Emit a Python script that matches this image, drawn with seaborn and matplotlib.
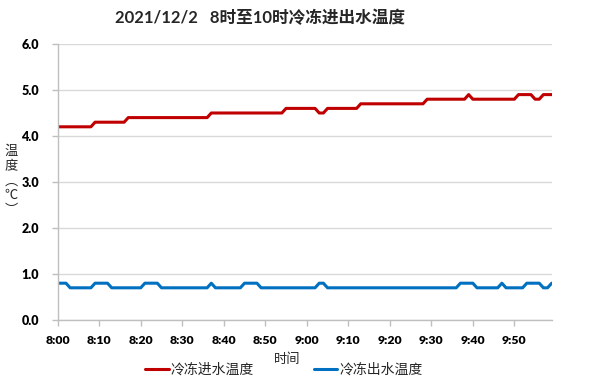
import numpy as np
import pandas as pd
import matplotlib
matplotlib.use("Agg")
import matplotlib.pyplot as plt
import seaborn as sns

# ---- data -------------------------------------------------------------
title = "2021/12/2   8时至10时冷冻进出水温度"
series_names = ["冷冻进水温度", "冷冻出水温度"]
tick_labels = ["8:00", "8:10", "8:20", "8:30", "8:40", "8:50",
               "9:00", "9:10", "9:20", "9:30", "9:40", "9:50"]
tick_minutes = [0, 10, 20, 30, 40, 50, 60, 70, 80, 90, 100, 110]
ylabel_chars = ["温", "度", "︵", "℃", "︶"]
xlabel = "时间"

inlet = [
    4.2, 4.2, 4.2, 4.2, 4.2, 4.2, 4.2, 4.2, 4.2, 4.3,
    4.3, 4.3, 4.3, 4.3, 4.3, 4.3, 4.3, 4.4, 4.4, 4.4,
    4.4, 4.4, 4.4, 4.4, 4.4, 4.4, 4.4, 4.4, 4.4, 4.4,
    4.4, 4.4, 4.4, 4.4, 4.4, 4.4, 4.4, 4.5, 4.5, 4.5,
    4.5, 4.5, 4.5, 4.5, 4.5, 4.5, 4.5, 4.5, 4.5, 4.5,
    4.5, 4.5, 4.5, 4.5, 4.5, 4.6, 4.6, 4.6, 4.6, 4.6,
    4.6, 4.6, 4.6, 4.5, 4.5, 4.6, 4.6, 4.6, 4.6, 4.6,
    4.6, 4.6, 4.6, 4.7, 4.7, 4.7, 4.7, 4.7, 4.7, 4.7,
    4.7, 4.7, 4.7, 4.7, 4.7, 4.7, 4.7, 4.7, 4.7, 4.8,
    4.8, 4.8, 4.8, 4.8, 4.8, 4.8, 4.8, 4.8, 4.8, 4.9,
    4.8, 4.8, 4.8, 4.8, 4.8, 4.8, 4.8, 4.8, 4.8, 4.8,
    4.8, 4.9, 4.9, 4.9, 4.9, 4.8, 4.8, 4.9, 4.9, 4.9,
]
outlet = [
    0.8, 0.8, 0.8, 0.7, 0.7, 0.7, 0.7, 0.7, 0.7, 0.8,
    0.8, 0.8, 0.8, 0.7, 0.7, 0.7, 0.7, 0.7, 0.7, 0.7,
    0.7, 0.8, 0.8, 0.8, 0.8, 0.7, 0.7, 0.7, 0.7, 0.7,
    0.7, 0.7, 0.7, 0.7, 0.7, 0.7, 0.7, 0.8, 0.7, 0.7,
    0.7, 0.7, 0.7, 0.7, 0.7, 0.8, 0.8, 0.8, 0.8, 0.7,
    0.7, 0.7, 0.7, 0.7, 0.7, 0.7, 0.7, 0.7, 0.7, 0.7,
    0.7, 0.7, 0.7, 0.8, 0.8, 0.7, 0.7, 0.7, 0.7, 0.7,
    0.7, 0.7, 0.7, 0.7, 0.7, 0.7, 0.7, 0.7, 0.7, 0.7,
    0.7, 0.7, 0.7, 0.7, 0.7, 0.7, 0.7, 0.7, 0.7, 0.7,
    0.7, 0.7, 0.7, 0.7, 0.7, 0.7, 0.7, 0.8, 0.8, 0.8,
    0.8, 0.7, 0.7, 0.7, 0.7, 0.7, 0.7, 0.8, 0.7, 0.7,
    0.7, 0.7, 0.7, 0.8, 0.8, 0.8, 0.8, 0.7, 0.7, 0.8,
]
minutes = np.arange(len(inlet))

df = pd.DataFrame({
    "minute": np.concatenate([minutes, minutes]),
    "value": inlet + outlet,
    "series": [series_names[0]] * len(inlet) + [series_names[1]] * len(outlet),
})

# ---- style ------------------------------------------------------------
sns.set_theme(style="white")
plt.rcParams["font.family"] = ["Lato", "Noto Sans CJK SC", "DejaVu Sans"]
cjk = ["Noto Sans CJK SC", "DejaVu Sans"]

fig = plt.figure(figsize=(6.0, 3.92), dpi=100)
ax = fig.add_axes([57.7 / 600, 1 - 320 / 392, (551.7 - 57.7) / 600, (320 - 44) / 392])

palette = {series_names[0]: "#C00000", series_names[1]: "#0070C0"}
sns.lineplot(data=df, x="minute", y="value", hue="series", palette=palette,
             linewidth=2.2, ax=ax, legend=True)
for ln in ax.get_lines():
    ln.set_solid_joinstyle("round")
    ln.set_solid_capstyle("round")

ax.set_xlim(0, len(inlet) - 1)
ax.set_ylim(0, 6)
yt = np.arange(0, 6.1, 1.0)
ax.set_yticks(yt)
ax.set_yticklabels([f"{v:.1f}" for v in yt], fontweight="heavy", fontsize=9)
ax.set_xticks(tick_minutes)
ax.set_xticklabels(tick_labels, fontweight="heavy", fontsize=8.8)
ax.yaxis.grid(True, color="#d9d9d9", linewidth=1.0)
ax.xaxis.grid(False)
for s in ["top", "right"]:
    ax.spines[s].set_visible(False)
for s in ["left", "bottom"]:
    ax.spines[s].set_color("#bfbfbf")
    ax.spines[s].set_linewidth(1.0)
ax.tick_params(axis="both", which="major", direction="out", length=4.5,
               width=1.0, color="#bfbfbf", bottom=True, left=True,
               labelcolor="#000000")
ax.tick_params(axis="y", pad=9)
ax.tick_params(axis="x", pad=6)
ax.set_xlabel("")
ax.set_ylabel("")

fig.text(287.5 / 600, 1 - 360 / 392, xlabel, ha="center", va="center",
         fontsize=9.5, family=cjk, fontweight="medium")
# stacked vertical y-axis title (one multi-line text)
fig.text(11 / 600, 1 - 181 / 392, "\n".join(ylabel_chars), ha="center",
         va="center", fontsize=9.5, family=cjk, fontweight="medium",
         linespacing=1.17)
fig.text(260 / 600, 1 - 18 / 392, title, ha="center", va="center",
         fontsize=12, fontweight="bold")

handles, labels = ax.get_legend_handles_labels()
ax.get_legend().remove()
leg = fig.legend(handles, labels, loc="center", ncol=2, frameon=False,
                 bbox_to_anchor=(284 / 600, 1 - 370 / 392),
                 handlelength=1.7, handletextpad=0.15, columnspacing=4.3,
                 prop={"family": cjk, "size": 10})

fig.savefig("out.png", dpi=100, facecolor="white")
